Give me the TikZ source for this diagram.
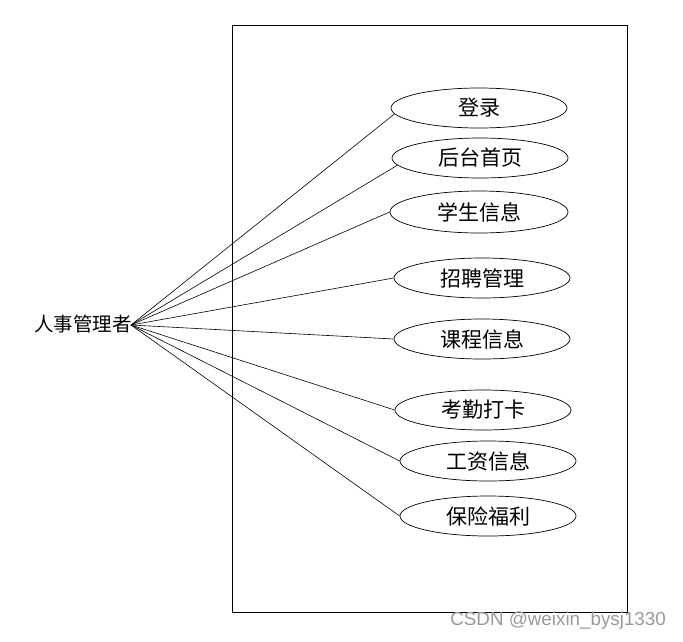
\documentclass[tikz,border=0pt]{standalone}
\usepackage{fontspec}
\newfontfamily\cjk{Noto Sans CJK SC}
\newfontfamily\wmfont{Liberation Sans}
\usetikzlibrary{shapes.geometric}

\begin{document}
\begin{tikzpicture}[x=1pt, y=-1pt, line width=0.7pt,
  usecase/.style={draw, ellipse, inner sep=0pt, minimum width=176pt, minimum height=40pt, font=\cjk\fontsize{21}{21}\selectfont},
  link/.style={line width=0.6pt}]
  \useasboundingbox (0, 0) rectangle (683, 641);

  % System boundary
  \draw (232, 25) rectangle (627, 612);

  % Actor
  \node[inner sep=0pt, font=\cjk\fontsize{19.5}{19.5}\selectfont] (actor) at (83, 324) {人事管理者};
  \coordinate (hub) at (131, 325);

  % Use cases
  \node[usecase] (login) at (479, 108) {登录};
  \node[usecase] (home) at (480, 158) {后台首页};
  \node[usecase, minimum width=178pt, minimum height=42pt] (student) at (479, 212) {学生信息};
  \node[usecase] (recruit) at (482, 278) {招聘管理};
  \node[usecase] (course) at (482, 339) {课程信息};
  \node[usecase] (attend) at (483, 410) {考勤打卡};
  \node[usecase] (salary) at (488, 461) {工资信息};
  \node[usecase] (welfare) at (488, 516) {保险福利};

  % Associations
  \draw[link] (hub) -- (login.184);
  \draw[link] (hub) -- (home.185);
  \draw[link] (hub) -- (student.west);
  \draw[link] (hub) -- (recruit.west);
  \draw[link] (hub) -- (course.west);
  \draw[link] (hub) -- (attend.west);
  \draw[link] (hub) -- (salary.west);
  \draw[link] (hub) -- (welfare.west);

  % Watermark
  \node[anchor=west, inner sep=0pt, text=black!40, font=\wmfont\fontsize{18.8}{18.8}\selectfont] (mark) at (450, 621) {CSDN @weixin\_bysj1330};
\end{tikzpicture}
\end{document}
